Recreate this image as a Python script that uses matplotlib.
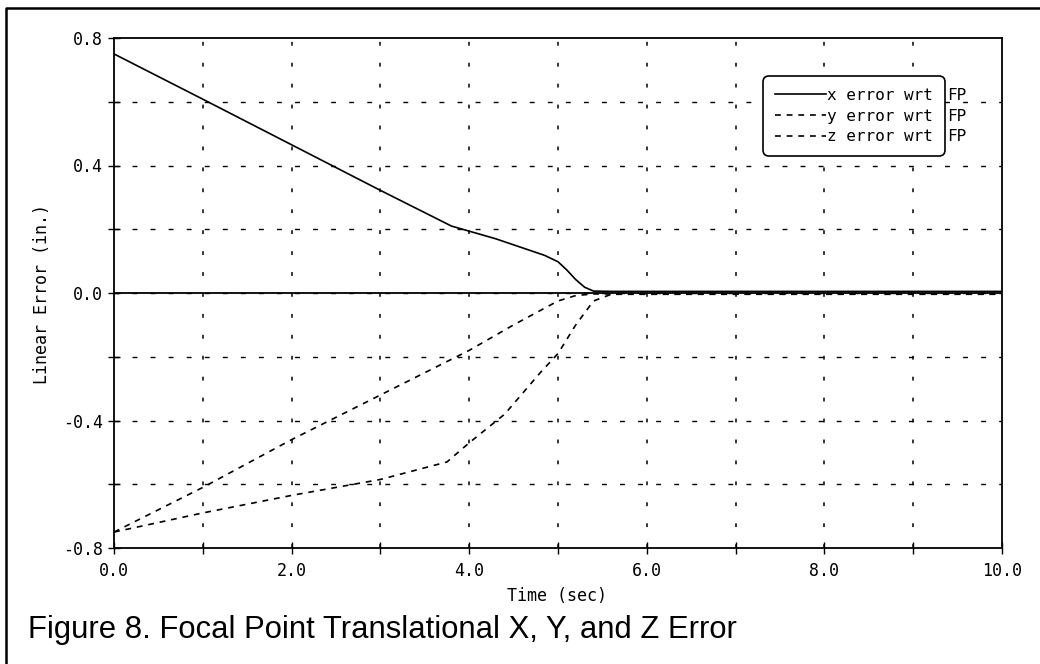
import numpy as np
import matplotlib.pyplot as plt
from matplotlib.lines import Line2D

# data
t_x = [0.0, 1.0, 2.0, 3.0, 3.8, 4.3, 4.85, 5.0, 5.1, 5.2, 5.3, 5.4, 5.6, 10.0]
x_err = [0.75, 0.608, 0.465, 0.322, 0.21, 0.17, 0.118, 0.098, 0.072, 0.042, 0.018, 0.006, 0.005, 0.005]

t_y = [0.0, 1.0, 2.0, 3.0, 4.0, 4.5, 5.0, 5.2, 5.4, 5.6, 10.0]
y_err = [-0.75, -0.61, -0.46, -0.32, -0.18, -0.10, -0.025, -0.008, -0.003, -0.003, -0.003]

t_z = [0.0, 1.0, 2.0, 3.0, 3.75, 4.0, 4.4, 4.8, 5.0, 5.2, 5.4, 5.6, 10.0]
z_err = [-0.75, -0.69, -0.635, -0.585, -0.53, -0.47, -0.38, -0.25, -0.19, -0.10, -0.025, -0.004, -0.004]

labels = ["x error wrt", "y error wrt", "z error wrt"]
caption = "Figure 8. Focal Point Translational X, Y, and Z Error"

mono = "DejaVu Sans Mono"

fig = plt.figure(figsize=(10.4, 6.64), dpi=100)
ax = fig.add_axes([114 / 1040, 1 - 548 / 664, 888 / 1040, 510 / 664])

ax.set_xlim(0, 10)
ax.set_ylim(-0.8, 0.8)

# grid: dashed horizontals every 0.2, dotted verticals every 1.0
for v in np.arange(-0.6, 0.61, 0.2):
    ax.axhline(v, color="black", lw=1.0, dashes=(3.5, 9.5), zorder=1)
for v in range(1, 10):
    ax.axvline(v, color="black", lw=1.1, dashes=(2.5, 11.2), zorder=1)
ax.axhline(0.0, color="black", lw=1.3, zorder=2)

ax.plot(t_x, x_err, color="black", lw=1.2, label=labels[0], zorder=3)
ax.plot(t_y, y_err, color="black", lw=1.2, dashes=(3.5, 3.5), label=labels[1], zorder=3)
ax.plot(t_z, z_err, color="black", lw=1.2, dashes=(3.5, 3.5), label=labels[2], zorder=3)

ax.set_xticks(np.arange(0, 11, 1))
ax.set_xticklabels(["%.1f" % v if v % 2 == 0 else "" for v in range(11)])
ax.set_yticks([-0.8, -0.4, 0.0, 0.4, 0.8])
ax.set_yticklabels(["-0.8", "-0.4", "0.0", "0.4", "0.8"])
ax.set_yticks(np.arange(-0.6, 0.61, 0.4), minor=True)
ax.tick_params(axis="both", which="both", direction="inout", length=8, width=1.0,
               labelsize=12, pad=4)
ax.tick_params(axis="x", pad=6)
for lab in ax.get_xticklabels() + ax.get_yticklabels():
    lab.set_family(mono)
for s in ax.spines.values():
    s.set_linewidth(1.3)

fig.text(557 / 1040, 1 - 596 / 664, "Time (sec)", ha="center", va="center",
         fontsize=12, family=mono)
fig.text(42 / 1040, 1 - 294 / 664, "Linear Error (in.)", ha="center", va="center",
         rotation=90, fontsize=12, family=mono)

leg = ax.legend(loc="upper left", bbox_to_anchor=(0.725, 0.935), fancybox=True,
                framealpha=1, edgecolor="black", handlelength=3.2, handletextpad=0.1,
                labelspacing=0.35, borderpad=0.55, prop={"family": mono, "size": 11.5})
leg.get_frame().set_linewidth(1.2)
leg.get_frame().set_boxstyle("round,pad=0.2,rounding_size=0.4")

# "FP" sits just outside the legend box
fig.canvas.draw()
inv = fig.transFigure.inverted()
frame_bb = leg.get_frame().get_window_extent()
for txt in leg.get_texts():
    bb = txt.get_window_extent()
    xf, yf = inv.transform((frame_bb.x1 + 2, (bb.y0 + bb.y1) / 2))
    fig.text(xf, yf, "FP", ha="left", va="center", fontsize=11.5, family=mono)

# scanned page frame (left and top edges)
fig.add_artist(Line2D([6 / 1040, 6 / 1040, 1.0], [0.0, 1 - 8 / 664, 1 - 8 / 664],
                      transform=fig.transFigure, color="black", lw=1.8))

fig.text(28 / 1040, 1 - 630 / 664, caption, ha="left", va="center",
         fontsize=22.3, family="Liberation Sans")

fig.savefig("out.png", dpi=100)
